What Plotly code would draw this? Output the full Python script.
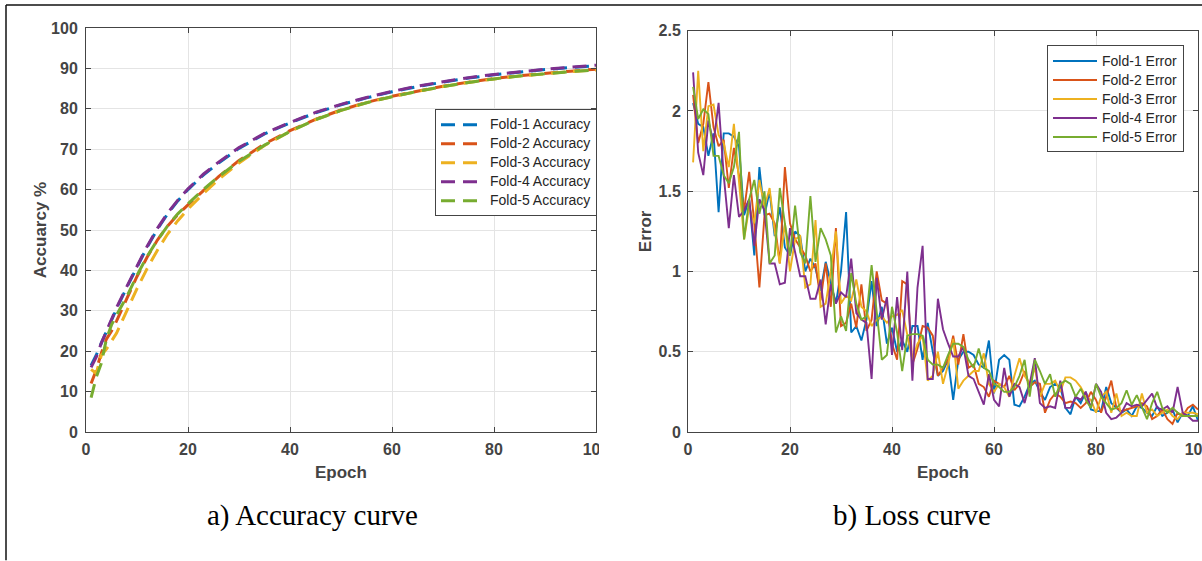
import plotly.graph_objects as go

# ---------------- data ----------------
fold_names = ["Fold-1", "Fold-2", "Fold-3", "Fold-4", "Fold-5"]
colors = ["#0072BD", "#D95319", "#EDB120", "#7E2F8E", "#77AC30"]

acc_epochs = [1, 2, 3, 4, 5, 6, 8, 10, 12, 14, 16, 18, 20, 23, 26, 30, 35, 40,
              45, 50, 55, 60, 65, 70, 75, 80, 85, 90, 95, 100]
acc_fold1 = [16.5, 19, 22, 24.8, 28, 30.5, 35.8, 41, 45.8, 50.2, 54, 57.2, 60, 63.6, 66.6, 70.2,
             73.8, 76.5, 79, 81, 82.7, 84.2, 85.5, 86.6, 87.6, 88.4, 89.1, 89.7, 90.2, 90.7]
acc_fold2 = [12, 15.3, 19.5, 23, 25, 27.5, 33, 38.5, 43.3, 47.5, 51, 53.8, 56.2, 59.8, 63.2, 67.2,
             71.3, 74.6, 77.4, 79.7, 81.6, 83.1, 84.4, 85.6, 86.6, 87.5, 88.2, 88.8, 89.3, 89.8]
acc_fold3 = [15.5, 14.5, 19, 20.5, 22.5, 24.5, 30, 35.5, 40.5, 45, 49, 52.3, 55.2, 59, 62.5, 66.6,
             70.9, 74.4, 77.3, 79.6, 81.5, 83, 84.3, 85.5, 86.5, 87.4, 88.1, 88.7, 89.2, 89.6]
acc_fold4 = [16, 18.5, 22, 25, 28.2, 30.8, 36, 41.2, 46, 50.4, 54.2, 57.4, 60.2, 63.8, 66.8, 70.4,
             73.9, 76.6, 79.1, 81.1, 82.8, 84.3, 85.6, 86.7, 87.7, 88.5, 89.2, 89.8, 90.3, 90.8]
acc_fold5 = [8.5, 13.5, 17, 23, 26.5, 29, 33.5, 38.8, 43.5, 47.5, 51, 54, 56.5, 60, 63.2, 67,
             71, 74.4, 77.3, 79.6, 81.5, 83, 84.3, 85.5, 86.5, 87.4, 88.1, 88.7, 89.2, 89.6]

epochs = list(range(1, 101))
err_fold1 = [2.05, 1.92, 1.90, 1.72, 1.86, 1.37, 1.86, 1.86, 1.84, 1.78,
             1.35, 1.45, 1.10, 1.65, 1.35, 1.50, 1.22, 1.40, 1.15, 1.10,
             1.25, 1.22, 1.00, 1.08, 1.02, 0.88, 1.06, 0.92, 0.80, 1.00,
             1.37, 0.62, 0.66, 0.57, 0.70, 0.94, 0.66, 0.78, 0.55, 0.65,
             0.50, 0.57, 0.50, 0.66, 0.66, 0.45, 0.68, 0.50, 0.35, 0.38,
             0.45, 0.20, 0.45, 0.50, 0.50, 0.48, 0.42, 0.40, 0.57, 0.24,
             0.45, 0.48, 0.45, 0.17, 0.16, 0.22, 0.30, 0.32, 0.25, 0.20,
             0.28, 0.30, 0.28, 0.15, 0.11, 0.22, 0.18, 0.25, 0.14, 0.13,
             0.13, 0.28, 0.18, 0.15, 0.12, 0.14, 0.10, 0.16, 0.15, 0.12,
             0.10, 0.16, 0.10, 0.12, 0.14, 0.06, 0.12, 0.10, 0.16, 0.07]
err_fold2 = [2.10, 1.80, 1.92, 2.18, 1.90, 1.78, 1.82, 1.52, 1.77, 1.60,
             1.38, 1.62, 1.30, 0.90, 1.35, 1.36, 1.30, 1.05, 1.65, 1.30,
             1.20, 1.15, 1.10, 1.00, 1.05, 0.82, 1.05, 0.78, 1.27, 0.66,
             0.68, 0.80, 0.65, 0.92, 0.63, 0.70, 1.00, 0.82, 0.80, 0.55,
             0.45, 0.94, 0.92, 0.42, 0.52, 0.66, 0.65, 0.60, 0.35, 0.40,
             0.45, 0.60, 0.42, 0.61, 0.40, 0.42, 0.30, 0.28, 0.22, 0.32,
             0.30, 0.28, 0.35, 0.26, 0.30, 0.38, 0.28, 0.31, 0.30, 0.12,
             0.20, 0.24, 0.22, 0.18, 0.19, 0.18, 0.15, 0.18, 0.25, 0.20,
             0.12, 0.22, 0.32, 0.15, 0.13, 0.14, 0.15, 0.16, 0.18, 0.16,
             0.08, 0.10, 0.14, 0.08, 0.05, 0.12, 0.10, 0.15, 0.17, 0.14]
err_fold3 = [1.68, 2.25, 1.75, 2.03, 2.04, 1.85, 1.80, 1.65, 1.92, 1.55,
             1.20, 1.40, 1.30, 1.57, 1.40, 1.52, 1.25, 1.05, 1.30, 1.00,
             1.20, 1.22, 0.90, 0.92, 1.32, 0.78, 0.80, 1.00, 1.25, 0.80,
             0.85, 0.82, 0.95, 0.78, 0.75, 0.66, 0.70, 0.72, 0.68, 0.72,
             0.73, 0.76, 0.60, 0.45, 0.55, 0.60, 0.32, 0.35, 0.50, 0.30,
             0.42, 0.58, 0.27, 0.32, 0.35, 0.38, 0.38, 0.49, 0.30, 0.25,
             0.30, 0.28, 0.22, 0.35, 0.46, 0.35, 0.30, 0.40, 0.22, 0.30,
             0.30, 0.32, 0.25, 0.34, 0.34, 0.32, 0.28, 0.22, 0.20, 0.12,
             0.22, 0.25, 0.12, 0.24, 0.10, 0.12, 0.10, 0.10, 0.24, 0.12,
             0.14, 0.10, 0.12, 0.14, 0.10, 0.08, 0.12, 0.12, 0.12, 0.11]
err_fold4 = [2.24, 1.74, 1.60, 1.94, 1.80, 2.05, 1.60, 1.27, 1.60, 1.34,
             1.38, 1.45, 1.16, 1.45, 1.38, 1.05, 1.05, 0.92, 0.93, 1.27,
             1.12, 0.97, 0.97, 0.83, 0.83, 0.95, 0.67, 0.92, 0.80, 0.87,
             0.84, 1.08, 0.74, 0.70, 0.68, 0.33, 0.96, 0.70, 0.84, 0.48,
             0.84, 0.51, 1.00, 0.32, 0.90, 1.16, 0.33, 0.33, 0.83, 0.64,
             0.55, 0.47, 0.47, 0.53, 0.35, 0.33, 0.25, 0.17, 0.36, 0.20,
             0.16, 0.40, 0.22, 0.30, 0.28, 0.18, 0.30, 0.46, 0.18, 0.15,
             0.16, 0.15, 0.32, 0.15, 0.15, 0.22, 0.20, 0.25, 0.15, 0.30,
             0.25, 0.12, 0.08, 0.09, 0.12, 0.18, 0.16, 0.17, 0.16, 0.20,
             0.24, 0.15, 0.14, 0.16, 0.12, 0.28, 0.12, 0.10, 0.07, 0.07]
err_fold5 = [2.15, 1.95, 2.01, 1.98, 1.72, 1.72, 1.60, 1.55, 1.65, 1.87,
             1.20, 1.45, 1.57, 1.36, 1.50, 1.05, 1.10, 1.52, 1.30, 1.10,
             1.41, 1.12, 1.05, 1.47, 1.06, 1.27, 1.20, 1.10, 0.62, 0.72,
             0.63, 0.99, 0.80, 0.70, 0.72, 1.04, 0.75, 0.45, 0.48, 0.78,
             0.62, 0.38, 0.60, 0.61, 0.61, 0.60, 0.45, 0.42, 0.42, 0.40,
             0.48, 0.55, 0.55, 0.53, 0.45, 0.40, 0.52, 0.40, 0.38, 0.30,
             0.28, 0.25, 0.25, 0.28, 0.35, 0.45, 0.22, 0.45, 0.38, 0.30,
             0.36, 0.22, 0.30, 0.32, 0.30, 0.22, 0.27, 0.20, 0.15, 0.30,
             0.22, 0.18, 0.14, 0.15, 0.18, 0.26, 0.17, 0.23, 0.16, 0.08,
             0.18, 0.25, 0.15, 0.12, 0.15, 0.12, 0.10, 0.10, 0.10, 0.10]

x_ticks = [0, 20, 40, 60, 80, 100]
acc_ticks = [0, 10, 20, 30, 40, 50, 60, 70, 80, 90, 100]
err_ticks = [0, 0.5, 1, 1.5, 2, 2.5]

acc_series = [acc_fold1, acc_fold2, acc_fold3, acc_fold4, acc_fold5]
err_series = [err_fold1, err_fold2, err_fold3, err_fold4, err_fold5]

# ---------------- figure ----------------
LEG_SPAN = '<span style="font-size:14px">{}</span>'

fig = go.Figure()
for name, col, acc in zip(fold_names, colors, acc_series):
    fig.add_trace(go.Scatter(
        x=acc_epochs, y=acc, mode="lines", name=LEG_SPAN.format(f"{name} Accuracy"),
        line=dict(color=col, width=3, dash="14px,8px"),
        xaxis="x", yaxis="y", legend="legend"))
for name, col, err in zip(fold_names, colors, err_series):
    fig.add_trace(go.Scatter(
        x=epochs, y=err, mode="lines", name=LEG_SPAN.format(f"{name} Error"),
        line=dict(color=col, width=1.9),
        xaxis="x2", yaxis="y2", legend="legend2"))

SANS = "Liberation Sans, Arial, Helvetica, sans-serif"
axis_common = dict(
    showline=True, linecolor="#444444", linewidth=1, mirror="ticks",
    ticks="inside", ticklen=5, tickcolor="#444444", tickwidth=1,
    showgrid=True, gridcolor="#e4e4e4", gridwidth=1, zeroline=False,
    automargin=False, ticklabeloverflow="allow",
    tickfont=dict(family=SANS, size=16, color="#444444", weight="bold"),
)
title_font = dict(family=SANS, size=17, color="#444444", weight="bold")

W, H = 1202, 561
ML, MR, MT, MB = 86, 4, 27.5, 128.5
pw = W - ML - MR
ph = H - MT - MB

def px(xp):
    return (xp - ML) / pw

def py(yp):
    return (H - MB - yp) / ph

fig.update_layout(
    width=W, height=H, autosize=False,
    margin=dict(l=ML, r=MR, t=MT, b=MB, autoexpand=False),
    paper_bgcolor="white", plot_bgcolor="white",
    showlegend=True,
    xaxis=dict(domain=[0, px(596)], range=[0, 100], tickvals=x_ticks, anchor="y",
               ticklabelstandoff=3,
               title=dict(text="Epoch", font=title_font, standoff=8), **axis_common),
    yaxis=dict(domain=[0, 1], range=[0, 100], tickvals=acc_ticks, anchor="x",
               ticklabelstandoff=4,
               title=dict(text="Accuarcy %", font=title_font, standoff=0), **axis_common),
    xaxis2=dict(domain=[px(688), 1], range=[0, 100], tickvals=x_ticks, anchor="y2",
                ticklabelstandoff=3,
                title=dict(text="Epoch", font=title_font, standoff=8), **axis_common),
    yaxis2=dict(domain=[0, py(30.2)], range=[0, 2.5], tickvals=err_ticks, anchor="x2",
                ticklabelstandoff=3,
                title=dict(text="Error", font=title_font, standoff=2), **axis_common),
    legend=dict(x=px(597), xanchor="right", y=py(109), yanchor="top",
                bgcolor="white", bordercolor="#444444", borderwidth=1,
                itemwidth=44,
                font=dict(family=SANS, size=12, color="#262626")),
    legend2=dict(x=px(1184), xanchor="right", y=py(45), yanchor="top",
                 bgcolor="white", bordercolor="#444444", borderwidth=1,
                 itemwidth=44,
                 font=dict(family=SANS, size=12, color="#262626")),
    annotations=[
        dict(text="a) Accuracy curve", x=px(312), y=py(516), xref="paper", yref="paper",
             xanchor="center", yanchor="middle", showarrow=False,
             font=dict(family="Liberation Serif, Times New Roman, serif", size=29, color="black")),
        dict(text="b) Loss curve", x=px(912), y=py(516), xref="paper", yref="paper",
             xanchor="center", yanchor="middle", showarrow=False,
             font=dict(family="Liberation Serif, Times New Roman, serif", size=29, color="black")),
    ],
    shapes=[
        # crop of the left subfigure cutting its last tick label
        dict(type="rect", xref="paper", yref="paper", x0=px(599), x1=px(632),
             y0=py(463), y1=py(437), fillcolor="white", line=dict(width=0), layer="above"),
        # page frame lines
        dict(type="line", xref="paper", yref="paper", x0=px(6), x1=px(1202),
             y0=py(4.5), y1=py(4.5), line=dict(color="#111111", width=1.5)),
        dict(type="line", xref="paper", yref="paper", x0=px(6), x1=px(6),
             y0=py(4.5), y1=py(561), line=dict(color="#111111", width=1.5)),
    ],
)

fig.write_html("out.html")
